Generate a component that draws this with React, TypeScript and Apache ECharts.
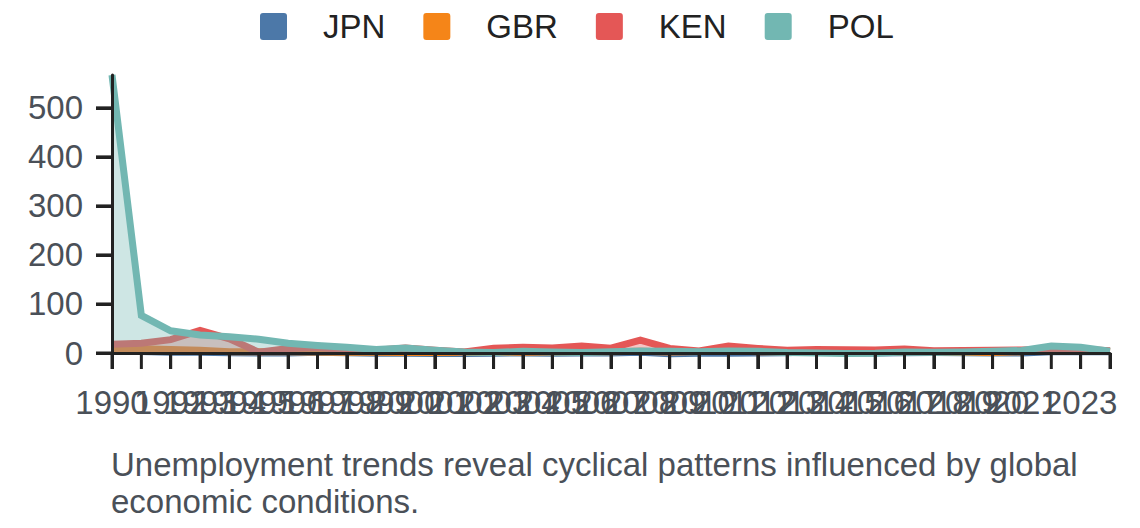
import React, { useEffect, useRef } from "react";
import * as echarts from "echarts";

const years = [
  "1990", "1991", "1992", "1993", "1994", "1995", "1996", "1997", "1998", "1999",
  "2000", "2001", "2002", "2003", "2004", "2005", "2006", "2007", "2008", "2009",
  "2010", "2011", "2012", "2013", "2014", "2015", "2016", "2017", "2018", "2019",
  "2020", "2021", "2022", "2023", "2024",
];

const jpn = [
  3.1, 3.3, 1.7, 1.3, 0.7, -0.1, 0.1, 1.7, 0.7, -0.3,
  -0.7, -0.8, -0.9, -0.3, 0.0, -0.3, 0.2, 0.1, 1.4, -1.4,
  -0.7, -0.3, 0.0, 0.3, 2.8, 0.8, -0.1, 0.5, 1.0, 0.5,
  0.0, -0.2, 2.5, 3.3, 2.7,
];

const gbr = [
  9.0, 8.5, 7.0, 5.5, 2.5, 2.7, 2.5, 1.8, 1.6, 1.3,
  0.8, 1.2, 1.3, 1.4, 1.3, 2.1, 2.3, 2.3, 3.6, 2.2,
  3.3, 4.5, 2.8, 2.6, 1.5, 0.4, 1.0, 2.6, 2.3, 1.7,
  1.0, 2.5, 7.9, 6.8, 3.3,
];

const ken = [
  17.8, 20.1, 27.3, 46.0, 28.8, 1.6, 9.0, 11.4, 6.7, 5.7,
  10.0, 5.7, 2.0, 9.8, 11.6, 10.3, 14.5, 9.8, 26.2, 9.2,
  4.0, 14.0, 9.4, 5.7, 6.9, 6.6, 6.3, 8.0, 4.7, 5.2,
  5.4, 6.1, 7.7, 7.7, 4.5,
];

const pol = [
  567, 76.7, 45.3, 36.9, 33.2, 28.1, 19.8, 15.1, 11.7, 7.3,
  10.1, 5.5, 1.9, 0.8, 3.5, 2.1, 1.0, 2.5, 4.2, 3.8,
  2.6, 4.3, 3.7, 0.9, 0.1, -0.9, -0.6, 2.0, 1.6, 2.2,
  3.4, 5.1, 14.4, 11.5, 3.8,
];

const seriesNames = ["JPN", "GBR", "KEN", "POL"];
const seriesData = [jpn, gbr, ken, pol];
const colors = ["#4c78a8", "#f58518", "#e45756", "#72b7b2"];
const yTicks = [0, 100, 200, 300, 400, 500];
const caption =
  "Unemployment trends reveal cyclical patterns influenced by global economic conditions.";

const FONT = "'Liberation Sans', Arial, Helvetica, sans-serif";
const AXIS_COLOR = "#222222";
const LABEL_COLOR = "#4a5058";
const TICK_LEN = 16;
const TICK_W = 3;

export default function App() {
  const ref = useRef<HTMLDivElement>(null);

  useEffect(() => {
    if (!ref.current) return;
    const chart = echarts.init(ref.current, null, { renderer: "svg" });

    chart.setOption({
      animation: false,
      color: colors,
      textStyle: { fontFamily: FONT },
      title: {
        text: caption,
        left: 111,
        top: 446,
        padding: 0,
        textStyle: {
          fontFamily: FONT,
          fontSize: 33,
          fontWeight: "normal",
          color: LABEL_COLOR,
          width: 1000,
          overflow: "break",
          lineHeight: 36.7,
        },
      },
      legend: {
        left: 260,
        top: 10,
        padding: 0,
        itemWidth: 27,
        itemHeight: 27,
        itemGap: 38,
        selectedMode: false,
        icon: "path://M3,0H24Q27,0 27,3V24Q27,27 24,27H3Q0,27 0,24V3Q0,0 3,0Z",
        data: seriesNames,
        textStyle: {
          fontFamily: FONT,
          fontSize: 33,
          color: "#222222",
          padding: [0, 0, 0, 31],
        },
      },
      grid: { left: 112, right: 30, top: 75, bottom: 175, containLabel: false },
      xAxis: {
        type: "category",
        data: years,
        boundaryGap: false,
        z: 10,
        axisLine: { show: true, lineStyle: { color: AXIS_COLOR, width: 3 } },
        axisTick: {
          show: true,
          length: TICK_LEN,
          interval: 0,
          lineStyle: { color: AXIS_COLOR, width: TICK_W },
        },
        axisLabel: {
          interval: (i: number) => i < years.length - 1,
          showMinLabel: true,
          showMaxLabel: true,
          fontFamily: FONT,
          fontSize: 33,
          color: LABEL_COLOR,
          margin: 33,
        },
        splitLine: { show: false },
      },
      yAxis: {
        type: "value",
        min: 0,
        max: "dataMax",
        z: 10,
        axisLine: { show: true, lineStyle: { color: AXIS_COLOR, width: 3 } },
        axisTick: {
          show: true,
          length: TICK_LEN,
          customValues: yTicks,
          lineStyle: { color: AXIS_COLOR, width: TICK_W },
        },
        axisLabel: {
          customValues: yTicks,
          showMinLabel: true,
          showMaxLabel: true,
          fontFamily: FONT,
          fontSize: 33,
          color: LABEL_COLOR,
          margin: 29,
        },
        splitLine: { show: false },
      },
      series: [
        ...seriesNames.map((name, i) => ({
          name,
          type: "line",
          data: seriesData[i],
          clip: false,
          symbol: "none",
          showSymbol: false,
          lineStyle: { width: 7, color: colors[i], join: "miter" },
          itemStyle: { color: colors[i] },
          areaStyle: { color: colors[i], opacity: 0.35 },
          z: 2 + i,
        })),
        {
          type: "custom",
          name: "yTickMarks",
          silent: true,
          clip: false,
          z: 20,
          data: yTicks.map((v) => [0, v]),
          encode: { x: 0, y: 1 },
          renderItem: (_params: any, api: any) => {
            const p = api.coord([api.value(0), api.value(1)]);
            return {
              type: "rect",
              shape: { x: p[0] - TICK_LEN, y: p[1] - TICK_W / 2, width: TICK_LEN, height: TICK_W },
              style: { fill: AXIS_COLOR },
            };
          },
        },
        {
          type: "custom",
          name: "xTickMarks",
          silent: true,
          clip: false,
          z: 20,
          data: years.map((_y, i) => [i, 0]),
          encode: { x: 0, y: 1 },
          renderItem: (_params: any, api: any) => {
            const p = api.coord([api.value(0), api.value(1)]);
            return {
              type: "rect",
              shape: { x: p[0] - TICK_W / 2, y: p[1], width: TICK_W, height: TICK_LEN },
              style: { fill: AXIS_COLOR },
            };
          },
        },
      ],
    });
    return () => chart.dispose();
  }, []);

  return (
    <div
      ref={ref}
      style={{ position: "absolute", left: 0, top: 0, width: 1140, height: 528 }}
    />
  );
}
